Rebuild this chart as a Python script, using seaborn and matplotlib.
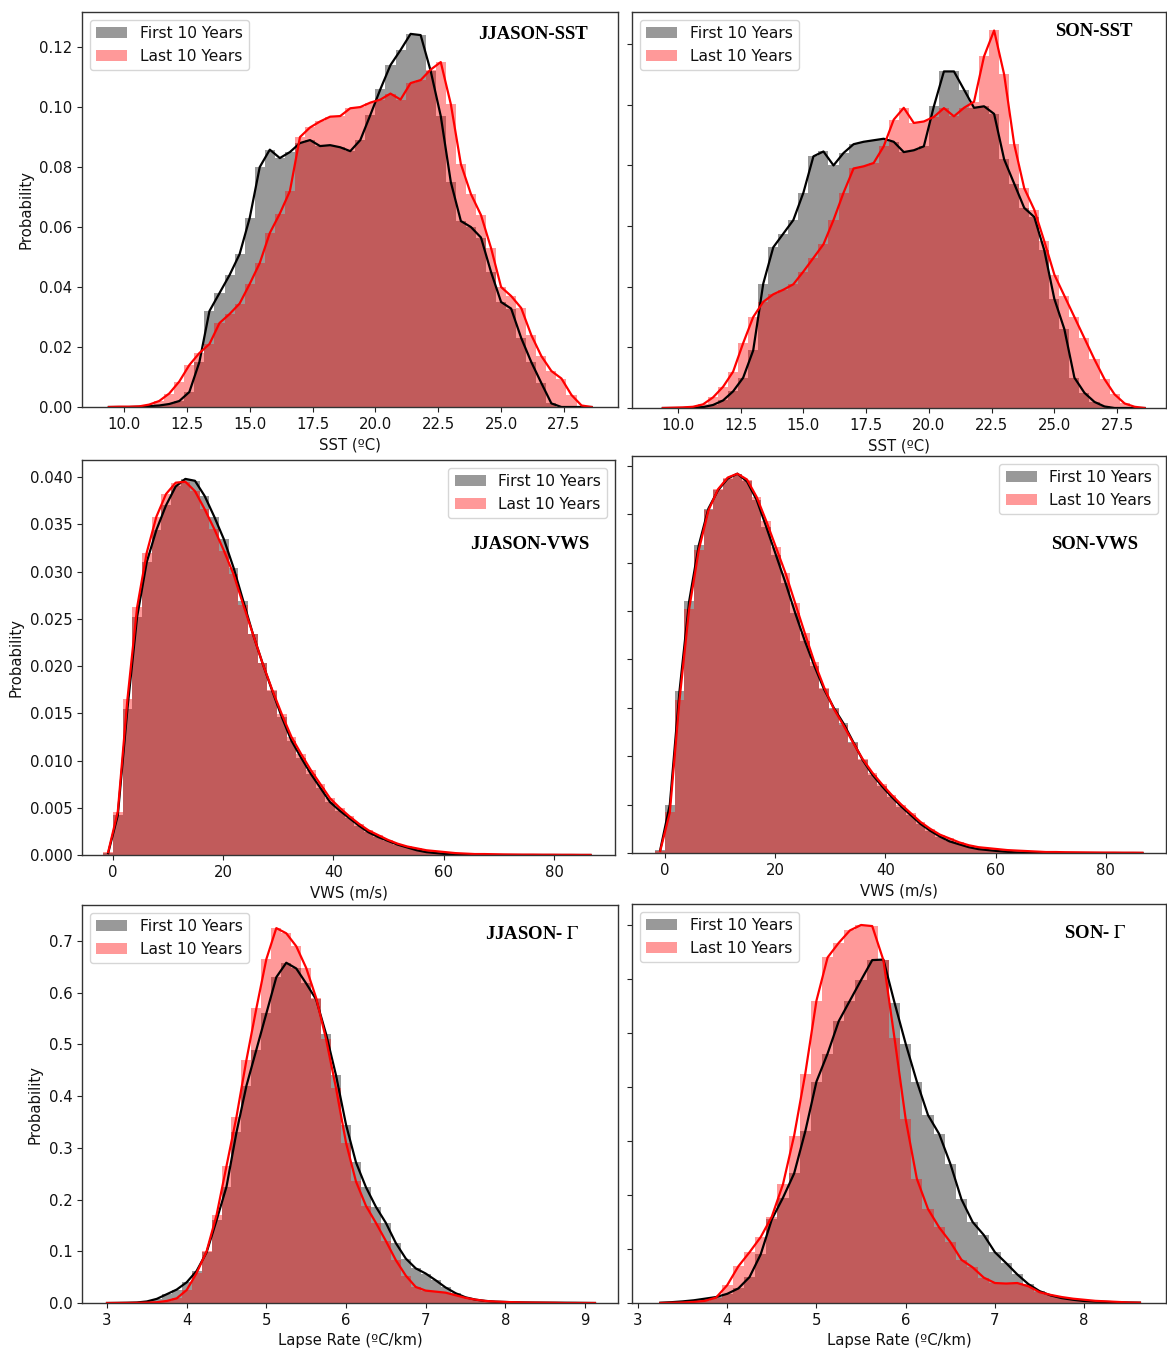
import numpy as np
import pandas as pd
import matplotlib
matplotlib.use("Agg")
import matplotlib.pyplot as plt
import seaborn as sns
from matplotlib.ticker import FormatStrFormatter

# ---------------------------------------------------------------------------
# Binned probability densities (bin centres on a regular grid per variable)
# ---------------------------------------------------------------------------
sst_centers = np.round(np.arange(9.4, 28.61, 0.4), 3)          # SST (ºC)
vws_centers = np.round(-0.875 + 1.75 * np.arange(51), 3)       # VWS (m/s)
lr_jjason_centers = np.round(3.0 + 0.125 * np.arange(50), 3)   # Lapse rate (ºC/km)
lr_son_centers = np.round(3.25 + 0.125 * np.arange(44), 3)

jjason_sst_first = [0, 0, 0, 0.0001, 0.0003, 0.0005, 0.001, 0.002, 0.005, 0.015,
                    0.032, 0.038, 0.044, 0.051, 0.063, 0.080, 0.0858, 0.083, 0.085, 0.088,
                    0.089, 0.087, 0.0873, 0.0866, 0.0853, 0.089, 0.0974, 0.106, 0.114, 0.119,
                    0.1244, 0.124, 0.112, 0.097, 0.075, 0.062, 0.060, 0.0565, 0.045, 0.035,
                    0.0328, 0.023, 0.015, 0.008, 0.0012, 0, 0, 0, 0]
jjason_sst_last = [0, 0.0001, 0.0001, 0.0002, 0.0008, 0.002, 0.0045, 0.0085, 0.014, 0.018,
                   0.021, 0.028, 0.031, 0.0345, 0.041, 0.048, 0.058, 0.0645, 0.072, 0.090,
                   0.0932, 0.0952, 0.0968, 0.097, 0.0996, 0.1, 0.1015, 0.1025, 0.1045, 0.1025,
                   0.108, 0.109, 0.1125, 0.115, 0.101, 0.081, 0.071, 0.064, 0.053, 0.040,
                   0.037, 0.033, 0.024, 0.017, 0.012, 0.0095, 0.004, 0.0005, 0]

son_sst_first = [0, 0, 0, 0.0001, 0.0003, 0.001, 0.0025, 0.0055, 0.010, 0.019,
                 0.041, 0.053, 0.0575, 0.062, 0.071, 0.083, 0.0846, 0.080, 0.0841, 0.087,
                 0.0878, 0.0883, 0.0888, 0.0878, 0.0844, 0.085, 0.0863, 0.0995, 0.111, 0.111,
                 0.105, 0.099, 0.0995, 0.097, 0.082, 0.074, 0.066, 0.063, 0.052, 0.036,
                 0.026, 0.010, 0.005, 0.002, 0.0005, 0, 0, 0, 0]
son_sst_last = [0, 0.0001, 0.0002, 0.0004, 0.0012, 0.0035, 0.007, 0.012, 0.0214, 0.030,
                0.035, 0.0375, 0.039, 0.0408, 0.045, 0.0495, 0.054, 0.062, 0.071, 0.079,
                0.0797, 0.0808, 0.0863, 0.0951, 0.099, 0.094, 0.0945, 0.096, 0.0989, 0.0962,
                0.099, 0.101, 0.116, 0.1245, 0.110, 0.087, 0.0725, 0.0654, 0.055, 0.044,
                0.037, 0.030, 0.023, 0.016, 0.0095, 0.0045, 0.0015, 0.0004, 0]

jjason_vws_first = [0.0002, 0.0042, 0.0155, 0.0252, 0.031, 0.0344, 0.037, 0.039, 0.0398, 0.0396,
                    0.038, 0.0358, 0.0334, 0.0304, 0.0269, 0.0234, 0.0203, 0.0174, 0.0146, 0.0121,
                    0.0103, 0.0086, 0.0071, 0.0056, 0.0047, 0.0039, 0.0031, 0.0024, 0.0019, 0.0015,
                    0.0011, 0.0008, 0.0005, 0.0003, 0.0002, 0.0001, 0.00005, 0, 0, 0,
                    0, 0, 0, 0, 0, 0, 0, 0, 0, 0, 0]
jjason_vws_last = [0.0003, 0.0046, 0.0165, 0.0262, 0.032, 0.0358, 0.0382, 0.0394, 0.0395, 0.0385,
                   0.0366, 0.0345, 0.0322, 0.0297, 0.0265, 0.0234, 0.0203, 0.0175, 0.0149, 0.0125,
                   0.0107, 0.009, 0.0075, 0.006, 0.005, 0.0041, 0.0033, 0.0026, 0.0021, 0.0016,
                   0.0012, 0.0009, 0.0007, 0.0005, 0.0004, 0.0003, 0.0002, 0.00015, 0.0001, 0.0001,
                   0.00008, 0.00006, 0.00005, 0.00004, 0.00004, 0.00003, 0.00003, 0.00002, 0.00002,
                   0.00001, 0.00001]

son_vws_first = [0.0003, 0.005, 0.0167, 0.026, 0.0318, 0.0356, 0.0375, 0.0387, 0.0392, 0.0384,
                 0.0365, 0.0337, 0.0308, 0.0279, 0.0248, 0.0219, 0.0193, 0.0169, 0.015, 0.0134,
                 0.0115, 0.0096, 0.0081, 0.0069, 0.0058, 0.0048, 0.0039, 0.003, 0.0023, 0.0017,
                 0.0012, 0.0009, 0.0006, 0.0004, 0.0003, 0.0002, 0.00012, 0.00005, 0, 0,
                 0, 0, 0, 0, 0, 0, 0, 0, 0, 0, 0]
son_vws_last = [0.0002, 0.0042, 0.0158, 0.0252, 0.0313, 0.0354, 0.0376, 0.0388, 0.0392, 0.0386,
                0.0368, 0.0343, 0.0316, 0.0289, 0.0258, 0.0227, 0.0197, 0.0171, 0.0149, 0.0132,
                0.0114, 0.0097, 0.0083, 0.0071, 0.006, 0.005, 0.0041, 0.0032, 0.0025, 0.0019,
                0.0015, 0.0011, 0.0008, 0.0006, 0.0005, 0.0004, 0.0003, 0.00025, 0.0002, 0.00015,
                0.0001, 0.0001, 0.00008, 0.00007, 0.00006, 0.00005, 0.00004, 0.00004, 0.00003,
                0.00003, 0.00002]

jjason_lr_first = [0, 0.0002, 0.0005, 0.001, 0.003, 0.008, 0.017, 0.026, 0.04, 0.062,
                   0.098, 0.16, 0.225, 0.33, 0.42, 0.49, 0.56, 0.63, 0.658, 0.647,
                   0.618, 0.587, 0.52, 0.44, 0.345, 0.272, 0.224, 0.186, 0.155, 0.116,
                   0.086, 0.067, 0.057, 0.044, 0.03, 0.019, 0.011, 0.0065, 0.004, 0.0026,
                   0.002, 0.0013, 0.001, 0.0008, 0.0007, 0.0006, 0.0005, 0.0004, 0.0002, 0]
jjason_lr_last = [0, 0.0001, 0.0002, 0.0004, 0.0008, 0.0015, 0.004, 0.009, 0.025, 0.058,
                  0.1, 0.17, 0.265, 0.36, 0.47, 0.57, 0.665, 0.725, 0.715, 0.69,
                  0.648, 0.59, 0.51, 0.415, 0.31, 0.235, 0.188, 0.155, 0.12, 0.083,
                  0.053, 0.031, 0.024, 0.022, 0.02, 0.015, 0.01, 0.0065, 0.004, 0.0028,
                  0.002, 0.0015, 0.001, 0.0008, 0.0006, 0.0004, 0, 0, 0, 0]

son_lr_first = [0.0005, 0.0015, 0.003, 0.005, 0.008, 0.011, 0.017, 0.027, 0.048, 0.09,
                0.155, 0.195, 0.24, 0.318, 0.41, 0.462, 0.522, 0.56, 0.598, 0.635,
                0.636, 0.556, 0.48, 0.41, 0.348, 0.313, 0.258, 0.192, 0.15, 0.126,
                0.094, 0.074, 0.053, 0.035, 0.022, 0.014, 0.009, 0.006, 0.0037, 0.0026,
                0.002, 0.0013, 0.0009, 0.0006]
son_lr_last = [0, 0.0005, 0.001, 0.002, 0.004, 0.01, 0.033, 0.068, 0.094, 0.122,
               0.16, 0.22, 0.31, 0.425, 0.56, 0.64, 0.667, 0.69, 0.70, 0.698,
               0.635, 0.49, 0.34, 0.23, 0.174, 0.14, 0.113, 0.08, 0.066, 0.047,
               0.037, 0.036, 0.037, 0.031, 0.02, 0.015, 0.011, 0.008, 0.006, 0.004,
               0.003, 0.002, 0.001, 0.0006]

series_labels = ["First 10 Years", "Last 10 Years"]

# ---------------------------------------------------------------------------
# Figure
# ---------------------------------------------------------------------------
W, H = 1167, 1349
plt.rcParams["mathtext.fontset"] = "stix"
plt.rcParams["font.family"] = ["DejaVu Sans"]
fig = plt.figure(figsize=(W / 100, H / 100), dpi=100)

FS = 10.7
LEG_FS = 11.2


def add_axes_px(left, top, right, bottom):
    return fig.add_axes([left / W, 1 - bottom / H, (right - left) / W, (bottom - top) / H])


def draw_panel(ax, centers, first, last, title, title_xy, legend_loc,
               xlim, ylim, xticks, yticks, xfmt, yfmt, xlabel, show_ylabels):
    centers = np.asarray(centers, dtype=float)
    step = float(centers[1] - centers[0])
    lo, hi = float(centers[0] - step / 2), float(centers[-1] + step / 2)
    for vals, col, lab in ((first, "black", series_labels[0]),
                           (last, "red", series_labels[1])):
        df = pd.DataFrame({"x": centers, "density": np.asarray(vals, dtype=float)})
        sns.histplot(data=df, x="x", weights="density", bins=len(centers),
                     binrange=(lo, hi), stat="count",
                     color=col, alpha=0.4, linewidth=0, ax=ax, label=lab)
    for vals, col in ((first, "black"), (last, "red")):
        df = pd.DataFrame({"x": centers, "density": np.asarray(vals, dtype=float)})
        sns.lineplot(data=df, x="x", y="density", color=col, lw=1.6, ax=ax,
                     solid_joinstyle="round")

    ax.set_xlim(*xlim)
    ax.set_ylim(*ylim)
    ax.set_xticks(xticks)
    ax.set_yticks(yticks)
    ax.xaxis.set_major_formatter(FormatStrFormatter(xfmt))
    ax.yaxis.set_major_formatter(FormatStrFormatter(yfmt))
    ax.tick_params(labelsize=FS, length=3.5, width=0.8, colors="#222222",
                   labelcolor="#111111")
    if not show_ylabels:
        ax.tick_params(axis="y", labelleft=False)
        ax.set_ylabel("")
    else:
        ax.set_ylabel("Probability", fontsize=FS, color="#111111")
    ax.set_xlabel(xlabel, fontsize=FS, color="#111111")
    for sp in ax.spines.values():
        sp.set_color("#333333")
        sp.set_linewidth(1.0)

    leg = ax.legend(loc=legend_loc, fontsize=LEG_FS, frameon=True, framealpha=0.8,
                    edgecolor="0.8", fancybox=True)
    for t in leg.get_texts():
        t.set_color("#111111")

    ax.text(title_xy[0], title_xy[1], title, transform=ax.transAxes,
            ha="right", va="center", fontsize=13.5, fontweight="bold",
            family="Liberation Serif")


sst_xt = np.arange(10, 27.6, 2.5)
vws_xt = np.arange(0, 81, 20)

# Row 1: SST
ax = add_axes_px(82, 12, 618, 407)
draw_panel(ax, sst_centers, jjason_sst_first, jjason_sst_last, "JJASON-SST",
           (0.944, 0.942), "upper left", (8.33, 29.65), (0, 0.1317),
           sst_xt, np.arange(0, 0.121, 0.02), "%.1f", "%.2f", "SST (ºC)", True)

ax = add_axes_px(632, 12, 1166, 408)
draw_panel(ax, sst_centers, son_sst_first, son_sst_last, "SON-SST",
           (0.938, 0.95), "upper left", (8.17, 29.45), (0, 0.1306),
           sst_xt, np.arange(0, 0.121, 0.02), "%.1f", "%.2f", "SST (ºC)", False)

# Row 2: VWS
ax = add_axes_px(82, 460, 615, 855)
draw_panel(ax, vws_centers, jjason_vws_first, jjason_vws_last, "JJASON-VWS",
           (0.951, 0.785), "upper right", (-5.62, 91.07), (0, 0.0418),
           vws_xt, np.arange(0, 0.0401, 0.005), "%d", "%.3f", "VWS (m/s)", True)

ax = add_axes_px(632, 456, 1166, 853)
draw_panel(ax, vws_centers, son_vws_first, son_vws_last, "SON-VWS",
           (0.948, 0.776), "upper right", (-5.99, 90.9), (0, 0.04103),
           vws_xt, np.arange(0, 0.0401, 0.005), "%d", "%.3f", "VWS (m/s)", False)

# Row 3: lapse rate
ax = add_axes_px(82, 905, 618, 1303)
draw_panel(ax, lr_jjason_centers, jjason_lr_first, jjason_lr_last, r"JJASON- $\Gamma$",
           (0.929, 0.927), "upper left", (2.686, 9.414), (0, 0.7697),
           np.arange(3, 10), np.arange(0, 0.71, 0.1), "%d", "%.1f",
           "Lapse Rate (ºC/km)", True)

ax = add_axes_px(632, 904, 1166, 1303)
draw_panel(ax, lr_son_centers, son_lr_first, son_lr_last, r"SON- $\Gamma$",
           (0.925, 0.927), "upper left", (2.933, 8.917), (0, 0.7389),
           np.arange(3, 9), np.arange(0, 0.71, 0.1), "%d", "%.1f",
           "Lapse Rate (ºC/km)", False)

fig.savefig("out.png", dpi=100)
